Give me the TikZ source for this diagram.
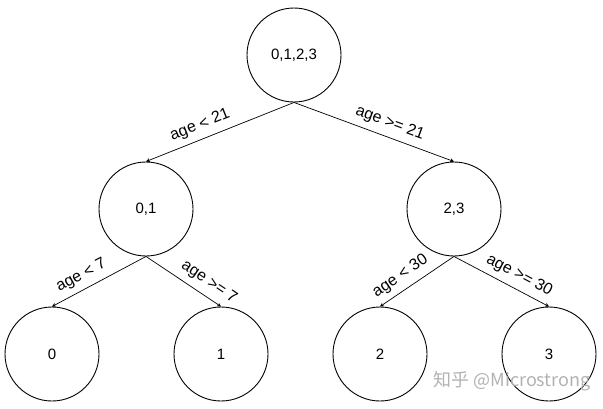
\documentclass[tikz,border=0pt]{standalone}
\usepackage{fontspec}
\setmainfont{Liberation Sans}
\newfontfamily\cjkfont{Noto Sans CJK SC}
\usetikzlibrary{arrows.meta}

\begin{document}
\begin{tikzpicture}[
  x=1pt, y=-1pt,
  font=\fontsize{15}{17}\selectfont,
  setnode/.style={draw=black, circle, line width=0.9pt, minimum size=94pt, inner sep=0pt},
  split/.style={-{Stealth[length=4pt, width=4pt]}, draw=black, line width=0.7pt},
  rule/.style={sloped, above=4pt, inner sep=2pt, font=\fontsize{16}{18}\selectfont},
  watermark/.style={text=black!30, font=\cjkfont\fontsize{18}{20}\selectfont}
]
\useasboundingbox (0,0) rectangle (603,408);

% Level 0 -- the whole set
\node[setnode] (root) at (294,55) {0,1,2,3};

% Level 1
\node[setnode] (young) at (146,209) {0,1};
\node[setnode] (old) at (454,209) {2,3};

% Level 2 -- the leaves
\node[setnode] (leafa) at (52,354) {0};
\node[setnode] (leafb) at (221,354) {1};
\node[setnode] (leafc) at (380,354) {2};
\node[setnode] (leafd) at (549,354) {3};

\draw[split] (root.south) -- node[rule, pos=0.6] {age < 21} (young.north);
\draw[split] (root.south) -- node[rule, pos=0.57] {age >= 21} (old.north);
\draw[split] (young.south) -- node[rule, pos=0.62] {age < 7} (leafa.north);
\draw[split] (young.south) -- node[rule, pos=0.74] {age >= 7} (leafb.north);
\draw[split] (old.south) -- node[rule, pos=0.62] {age < 30} (leafc.north);
\draw[split] (old.south) -- node[rule, pos=0.62] {age >= 30} (leafd.north);

\node[watermark] (wmark) at (512,381) {知乎 @Microstrong};

\end{tikzpicture}
\end{document}
